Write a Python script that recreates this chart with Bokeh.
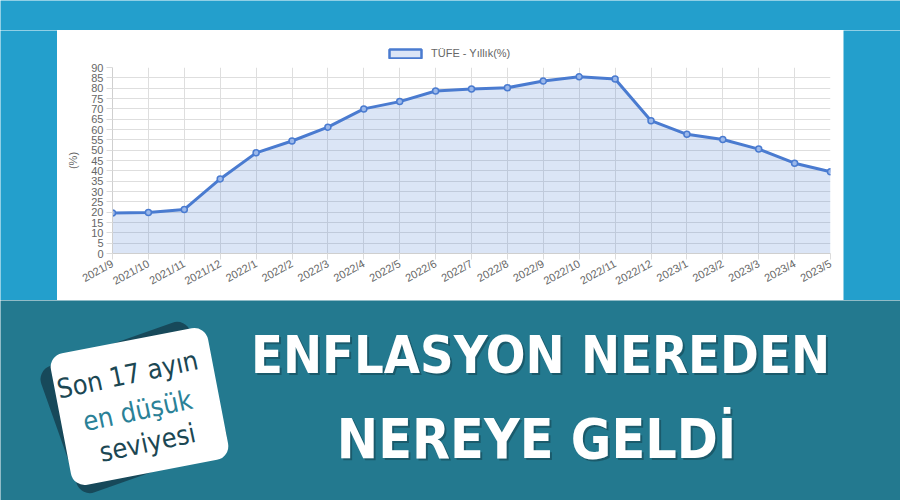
import math
from bokeh.plotting import figure
from bokeh.layouts import column, row
from bokeh.models import Range1d, FixedTicker, Legend, LegendItem, ColumnDataSource
from bokeh.core.properties import value
from bokeh.embed import file_html
from bokeh.resources import INLINE

# ---------------- data ----------------
months = ["2021/9", "2021/10", "2021/11", "2021/12",
          "2022/1", "2022/2", "2022/3", "2022/4", "2022/5", "2022/6",
          "2022/7", "2022/8", "2022/9", "2022/10", "2022/11", "2022/12",
          "2023/1", "2023/2", "2023/3", "2023/4", "2023/5"]
tufe = [19.58, 19.89, 21.31, 36.08,
        48.69, 54.44, 61.14, 69.97, 73.50, 78.62,
        79.60, 80.21, 83.45, 85.51, 84.39, 64.27,
        57.68, 55.18, 50.51, 43.68, 39.59]
y_ticks = list(range(0, 91, 5))
series_label = "TÜFE - Yıllık(%)"
y_axis_label = "(%)"
headline = ["ENFLASYON NEREDEN", "NEREYE GELDİ"]
sticker_lines = ["Son 17 ayın", "en düşük", "seviyesi"]

# ---------------- styles ----------------
TOP_BG = "#239fcc"
BANNER_BG = "#23798f"
LINE = "#4a7bd0"
GRID = "#dedede"
TXT = "#666666"
NARROW = "'Liberation Sans Narrow', 'DejaVu Sans Condensed', 'Arial Narrow', sans-serif"


def blank(w, h, color):
    f = figure(width=w, height=h, toolbar_location=None, output_backend="svg",
               min_border=0, background_fill_color=color, border_fill_color=color,
               outline_line_color=None, x_range=Range1d(0, 1), y_range=Range1d(0, 1))
    f.axis.visible = False
    f.grid.visible = False
    return f


xs = list(range(len(months)))
src = ColumnDataSource(dict(x=xs, y=tufe))

# ---------------- legend strip (top of the white panel) ----------------
lg = figure(width=786, height=31, x_range=Range1d(0, 1), y_range=Range1d(0, 1),
            toolbar_location=None, output_backend="svg", min_border=0,
            background_fill_color="white", border_fill_color="white", outline_line_color=None)
lg.axis.visible = False
lg.grid.visible = False
swatch = lg.quad(left="x", right="x", top="y", bottom="y", source=src,
                 fill_color=LINE, fill_alpha=0.2, line_color=LINE, line_width=2.5,
                 visible=False)
legend = Legend(items=[LegendItem(label=value(series_label), renderers=[swatch])],
                location=(273, 1), orientation="horizontal", click_policy="none",
                glyph_width=40, glyph_height=11, label_standoff=6, label_height=14,
                label_text_font="Liberation Sans", label_text_font_size="11px",
                label_text_color=TXT, padding=0, margin=0, spacing=0,
                border_line_alpha=0, background_fill_alpha=0)
lg.add_layout(legend)

# ---------------- chart ----------------
p = figure(width=786, height=239, x_range=Range1d(0, len(months) - 1), y_range=Range1d(0, 90),
           toolbar_location=None, output_backend="svg",
           min_border_left=55, min_border_right=13, min_border_top=6, min_border_bottom=47,
           background_fill_color="white", border_fill_color="white", outline_line_color=None)

p.varea(x="x", y1=0, y2="y", source=src, fill_color=LINE, fill_alpha=0.2)
p.line(x="x", y="y", source=src, line_color=LINE, line_width=3)
p.scatter(x="x", y="y", source=src, size=6, fill_color="#9bb8ea", line_color=LINE, line_width=1.5)

p.xaxis.ticker = FixedTicker(ticks=xs)
p.xaxis.major_label_overrides = {i: m for i, m in enumerate(months)}
p.xaxis.major_label_orientation = 0.5
p.yaxis.ticker = FixedTicker(ticks=y_ticks)
p.xgrid.ticker = FixedTicker(ticks=xs)
p.ygrid.ticker = FixedTicker(ticks=y_ticks)
p.grid.grid_line_color = GRID

for ax in (p.xaxis, p.yaxis):
    ax.axis_line_color = "#cfcfcf"
    ax.major_tick_line_color = "#dcdcdc"
    ax.major_tick_out = 6
    ax.major_tick_in = 0
    ax.minor_tick_line_color = None
    ax.major_label_text_color = TXT
    ax.major_label_text_font = "Liberation Sans"
    ax.major_label_text_font_size = "11px"
    ax.major_label_standoff = 3

p.yaxis.axis_label = y_axis_label
p.yaxis.axis_label_text_font_style = "normal"
p.yaxis.axis_label_text_font = "Liberation Sans"
p.yaxis.axis_label_text_font_size = "11px"
p.yaxis.axis_label_text_color = TXT
p.yaxis.axis_label_standoff = 9

# ---------------- banner ----------------
b = figure(width=900, height=200, x_range=Range1d(0, 900), y_range=Range1d(0, 200),
           toolbar_location=None, output_backend="svg", min_border=0,
           background_fill_color=BANNER_BG, border_fill_color=BANNER_BG, outline_line_color=None)
b.axis.visible = False
b.grid.visible = False

# sticker shadow + sticker
b.rect(x=[133], y=[93], width=[158], height=[134], angle=[0.34],
       fill_color="#17495a", line_color=None, border_radius=14)
b.rect(x=[139], y=[94], width=[160], height=[134], angle=[0.19],
       fill_color="white", line_color=None, border_radius=14)

st_x = [127, 137, 147]
st_y = [126, 90, 58]
st_col = ["#1b4753", "#2a8197", "#1b4753"]
b.text(x=st_x, y=st_y, text=sticker_lines, angle=0.21, text_align="center",
       text_baseline="alphabetic", text_color=st_col, text_font=value(NARROW),
       text_font_size="27px")

# headline with soft shadow
hx = [540, 536]
hy = [146, 62]
hs = ["52px", "55px"]
for t, x0, y0, fs in zip(headline, hx, hy, hs):
    b.text(x=[x0 + 2], y=[y0 - 2], text=[t], text_align="center",
           text_baseline="alphabetic", text_color="black", text_alpha=0.25,
           text_font=value(NARROW), text_font_style="bold", text_font_size=fs)
    b.text(x=[x0], y=[y0], text=[t], text_align="center", text_baseline="alphabetic",
           text_color="white", text_font=value(NARROW), text_font_style="bold",
           text_font_size=fs)

# ---------------- layout ----------------
layout = column(
    blank(900, 30, TOP_BG),
    row(blank(57, 270, TOP_BG), column(lg, p), blank(57, 270, TOP_BG)),
    b,
)

open("out.html", "w").write(file_html(layout, INLINE))
